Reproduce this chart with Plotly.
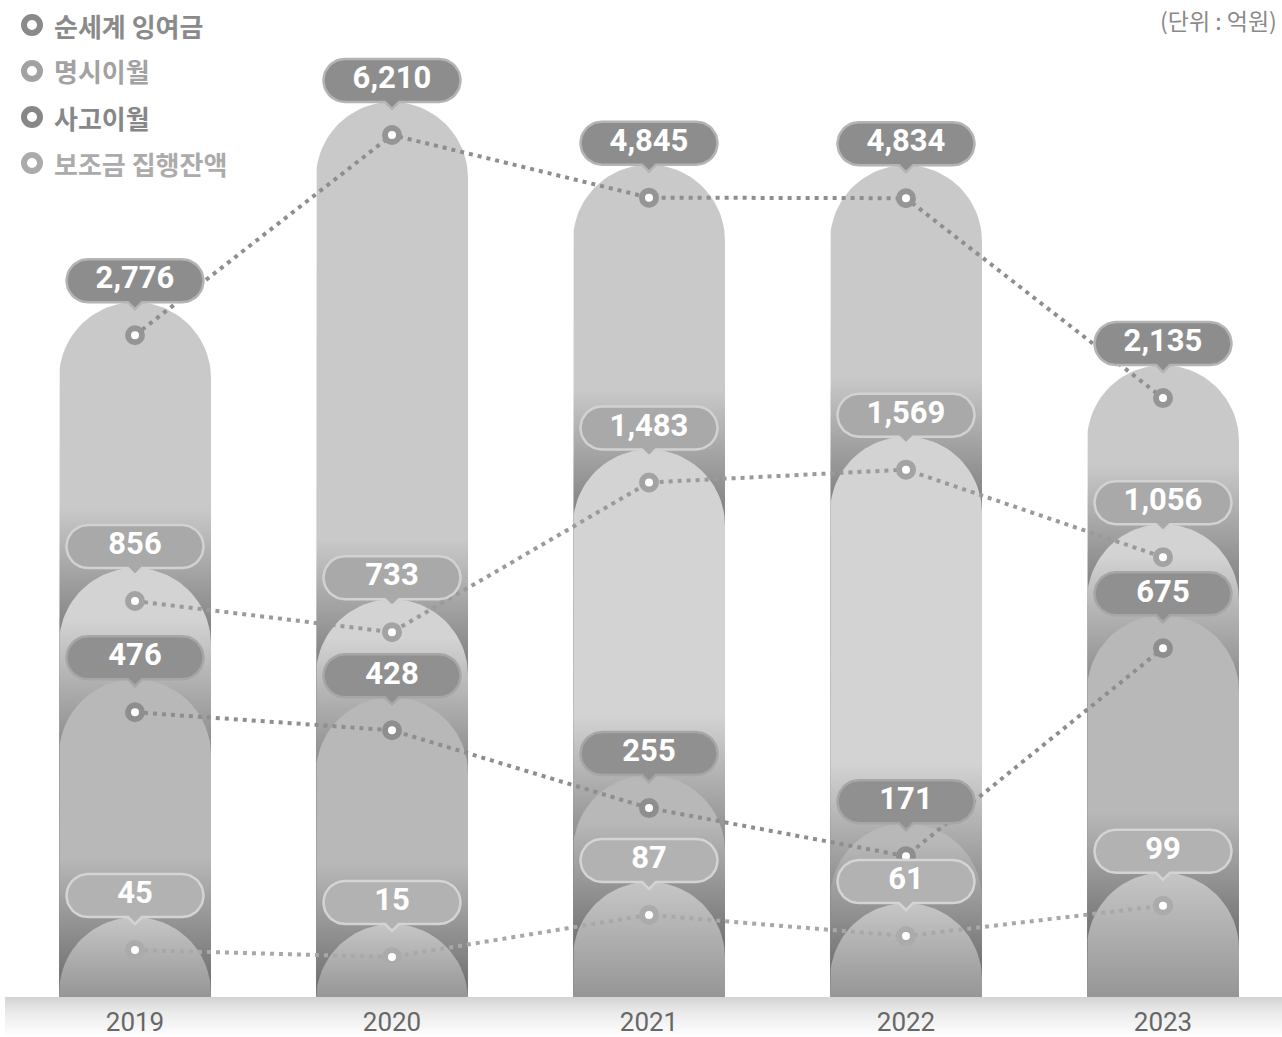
import math
import numpy as np
import plotly.graph_objects as go

# ---------------- data ----------------
years = ["2019", "2020", "2021", "2022", "2023"]
series_names = ["순세계 잉여금", "명시이월", "사고이월", "보조금 집행잔액"]
net_surplus = [2776, 6210, 4845, 4834, 2135]
explicit_carryover = [856, 733, 1483, 1569, 1056]
accident_carryover = [476, 428, 255, 171, 675]
subsidy_balance = [45, 15, 87, 61, 99]
unit_text = "(단위 : 억원)"

series_values = [net_surplus, explicit_carryover, accident_carryover, subsidy_balance]

# ---------------- styles ----------------
styles = [
    dict(light="#c9c9c9", dark="#7b7b7b", box="#8d8d8d", border="#b4b4b4", ring="#959595", line="#8e8e8e", legend="#8a8a8a"),
    dict(light="#d3d3d3", dark="#888888", box="#a9a9a9", border="#d2d2d2", ring="#a3a3a3", line="#9a9a9a", legend="#a2a2a2"),
    dict(light="#b8b8b8", dark="#6c6c6c", box="#909090", border="#a6a6a6", ring="#8e8e8e", line="#8e8e8e", legend="#878787"),
    dict(light="#c6c6c6", dark="#969696", box="#b2b2b2", border="#d4d4d4", ring="#ababab", line="#a8a8a8", legend="#ababab"),
]

W, H = 1282, 1037
BASE_PX = 997          # baseline row (pixels from top)
COL0_PX, STEP_PX = 135, 257
R = 76                 # half bar width / dome radius (px)
TOP_GAP = 33           # point sits this far below dome top
BOX_H = 43
BOX_HW = 68.5

# value scale (log with offset), expressed in pixels above baseline
SA, SB, SC, SFLOOR = -1455.0, 264.1, 250.0, 40.0


def yscale(v):
    return max(SA + SB * math.log(v + SC), SFLOOR)


def xpx(c, dx):
    return c + dx / STEP_PX


def pill(c, top):
    cy = top - R
    xs, ys = [xpx(c, -R)], [0.0]
    for t in np.linspace(math.pi, 0, 48):
        xs.append(xpx(c, R * math.cos(t)))
        ys.append(max(cy + R * math.sin(t), 0.0))
    xs += [xpx(c, R), xpx(c, -R)]
    ys += [0.0, 0.0]
    return xs, ys


def box(c, h):
    y0 = h + TOP_GAP
    y1 = y0 + BOX_H
    yc = (y0 + y1) / 2
    r = BOX_H / 2
    ix = BOX_HW - r
    pts = [(-ix, y0), (-7, y0), (0, y0 - 7), (7, y0), (ix, y0)]
    for t in np.linspace(-math.pi / 2, math.pi / 2, 24):
        pts.append((ix + r * math.cos(t), yc + r * math.sin(t)))
    pts.append((-ix, y1))
    for t in np.linspace(math.pi / 2, 3 * math.pi / 2, 24):
        pts.append((-ix + r * math.cos(t), yc + r * math.sin(t)))
    pts.append((-ix, y0))
    return [xpx(c, p[0]) for p in pts], [p[1] for p in pts]


xs_idx = list(range(len(years)))
heights = [[yscale(v) for v in vals] for vals in series_values]

fig = go.Figure()

# axis band below baseline
x_lo = (5 - COL0_PX) / STEP_PX
x_hi = (W + 10 - COL0_PX) / STEP_PX
fig.add_trace(go.Scatter(
    x=[x_lo, x_hi, x_hi, x_lo, x_lo], y=[0, 0, -(H - BASE_PX) - 2, -(H - BASE_PX) - 2, 0],
    mode="lines", line=dict(width=0), fill="toself",
    fillgradient=dict(type="vertical", colorscale=[[0, "#ffffff"], [0.6, "#ebebeb"], [1, "#d3d3d3"]],
                      start=-(H - BASE_PX), stop=0),
    hoverinfo="skip"))

# pills (largest series first)
for c in xs_idx:
    for s in range(len(series_values)):
        h = heights[s][c]
        top = h + TOP_GAP
        st = styles[s]
        if s + 1 < len(series_values):
            ntop = heights[s + 1][c] + TOP_GAP
            g0 = max(ntop - R, 0.0)
            g1 = min(ntop + 60, top)
        else:
            g0, g1 = 0.0, top
        px_, py_ = pill(c, top)
        fig.add_trace(go.Scatter(
            x=px_, y=py_, mode="lines", line=dict(width=0), fill="toself",
            fillgradient=dict(type="vertical", colorscale=[[0, st["dark"]], [1, st["light"]]],
                              start=g0, stop=g1),
            hoverinfo="skip"))

# dotted connecting lines
for s in range(len(series_values)):
    fig.add_trace(go.Scatter(
        x=xs_idx, y=heights[s], mode="lines",
        line=dict(color=styles[s]["line"], width=4, dash="4px,5px"),
        hoverinfo="skip"))

# point markers
for s in range(len(series_values)):
    fig.add_trace(go.Scatter(
        x=xs_idx, y=heights[s], mode="markers",
        marker=dict(size=14, color="#ffffff", line=dict(color=styles[s]["ring"], width=6)),
        hoverinfo="skip"))

# label boxes
for s in range(len(series_values)):
    bx, by = [], []
    for c in xs_idx:
        x_, y_ = box(c, heights[s][c])
        bx += x_ + [None]
        by += y_ + [None]
    fig.add_trace(go.Scatter(
        x=bx, y=by, mode="lines", fill="toself", fillcolor=styles[s]["box"],
        line=dict(color=styles[s]["border"], width=2.5), hoverinfo="skip"))

# label texts
for s in range(len(series_values)):
    fig.add_trace(go.Scatter(
        x=xs_idx, y=[h + TOP_GAP + BOX_H / 2 for h in heights[s]], mode="text",
        text=[f"{v:,}" for v in series_values[s]], textposition="middle center",
        textfont=dict(family="Roboto", size=31, weight=700, color="#ffffff"),
        hoverinfo="skip"))

# legend (custom)
annotations = []
shapes = []
for i, name in enumerate(series_names):
    ypx = 25 + 46 * i
    annotations.append(dict(
        x=52 / W, y=1 - ypx / H, xref="paper", yref="paper", xanchor="left", yanchor="middle",
        text=name, showarrow=False,
        font=dict(family="Noto Sans CJK KR", size=26, weight=700, color=styles[i]["legend"])))
    shapes.append(dict(
        type="circle", xref="paper", yref="paper",
        x0=(32 - 8) / W, x1=(32 + 8) / W, y0=1 - (ypx + 8) / H, y1=1 - (ypx - 8) / H,
        line=dict(color=styles[i]["legend"], width=6), fillcolor="#ffffff"))

annotations.append(dict(
    x=1279 / W, y=1 - 20 / H, xref="paper", yref="paper", xanchor="right", yanchor="middle",
    text=unit_text, showarrow=False,
    font=dict(family="Noto Sans CJK KR", size=23, color="#8a8a8a")))

fig.update_layout(
    width=W, height=H, margin=dict(l=0, r=0, t=0, b=0, autoexpand=False),
    paper_bgcolor="#ffffff", plot_bgcolor="#ffffff", showlegend=False,
    annotations=annotations, shapes=shapes,
    xaxis=dict(range=[-COL0_PX / STEP_PX, (W - COL0_PX) / STEP_PX],
               tickvals=xs_idx, ticktext=years, showgrid=False, zeroline=False, showline=False,
               ticks="", anchor="free", position=(H - BASE_PX) / H, automargin=False,
               ticklabelstandoff=7,
               tickfont=dict(family="Roboto", size=26, color="#676767"), fixedrange=True),
    yaxis=dict(range=[-(H - BASE_PX), BASE_PX], visible=False, fixedrange=True, automargin=False),
)

fig.write_html("out.html", config={"displayModeBar": False, "staticPlot": True},
               post_script="document.body.style.margin='0';document.body.style.overflow='hidden';")
